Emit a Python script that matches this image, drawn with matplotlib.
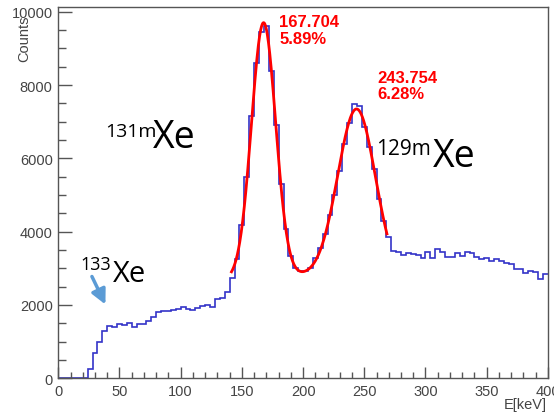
import numpy as np
import matplotlib
matplotlib.use('Agg')
from matplotlib import pyplot as plt
from matplotlib.ticker import MultipleLocator

# energy spectrum, 4 keV bins from 0 to 400 keV
bin_width = 4
counts = [
    0, 0, 0, 0, 0, 0,
    250, 700, 990, 1290, 1430, 1410, 1490, 1450, 1500, 1400,
    1480, 1470, 1560, 1670, 1800, 1840, 1840, 1870, 1900, 1940,
    1890, 1860, 1930, 1970, 1990, 1950, 2160, 2190, 2360, 2740,
    3250, 4180, 5500, 7150, 8610, 9450, 9620, 8370, 6900, 5300,
    4060, 3340, 3020, 2920, 2930, 3020, 3290, 3560, 3930, 4460,
    5000, 5650, 6390, 6970, 7470, 7430, 6850, 6300, 5700, 4880,
    4290, 3860, 3480, 3440, 3360, 3430, 3380, 3360, 3290, 3440,
    3290, 3520, 3440, 3320, 3320, 3430, 3340, 3440, 3430, 3320,
    3250, 3290, 3200, 3260, 3200, 3150, 3110, 2970, 2970, 2880,
    2930, 2900, 2720, 2840,
]
edges = np.arange(0, 400 + bin_width, bin_width)

# double gaussian + pol2 background fit
fit_range = (141.5, 268.5)
peak_mean = [167.704, 243.754]
peak_res = [0.0589, 0.0628]      # sigma / mean
peak_amp = [6935, 4584]
bg_pars = [2800, 205, 0.025]     # top, centre, curvature

def fit_func(x):
    y = bg_pars[0] - bg_pars[2] * (x - bg_pars[1]) ** 2
    for mu, res, amp in zip(peak_mean, peak_res, peak_amp):
        s = mu * res
        y = y + amp * np.exp(-0.5 * ((x - mu) / s) ** 2)
    return y

fig = plt.figure(figsize=(5.54, 4.14), dpi=100)
ax = fig.add_axes([0.1052, 0.0838, 0.8838, 0.8962])

ax.stairs(counts, edges, baseline=None, color='#3434c8', lw=1.2)

xf = np.linspace(fit_range[0], fit_range[1], 400)
ax.plot(xf, fit_func(xf), color='red', lw=2)

ax.set_xlim(0, 400)
ax.set_ylim(0, 10120)
ax.xaxis.set_major_locator(MultipleLocator(50))
ax.xaxis.set_minor_locator(MultipleLocator(10))
ax.yaxis.set_major_locator(MultipleLocator(2000))
ax.yaxis.set_minor_locator(MultipleLocator(500))
ax.tick_params(axis='x', which='major', direction='in', length=8, width=1, color='#555555', pad=4)
ax.tick_params(axis='x', which='minor', direction='in', length=4, width=1, color='#555555')
ax.tick_params(axis='y', which='major', direction='in', length=10, width=1, color='#555555', pad=4)
ax.tick_params(axis='y', which='minor', direction='in', length=5.5, width=1, color='#555555')
for lab in ax.get_xticklabels() + ax.get_yticklabels():
    lab.set_fontfamily('Liberation Sans')
    lab.set_fontsize(10.5)
    lab.set_color('#444444')
for sp in ax.spines.values():
    sp.set_color('#555555')
    sp.set_linewidth(1)

fig.text(24 / 554, 1 - 15 / 414, 'Counts', rotation=90, ha='center', va='top',
         family='Liberation Sans', fontsize=10.5, color='#444444')
fig.text(547 / 554, 1 - 405 / 414, 'E[keV]', ha='right', va='center',
         family='Liberation Sans', fontsize=10.5, color='#444444')

# fit results
ax.text(180.5, 9925, '%.3f\n%.2f%%' % (peak_mean[0], peak_res[0] * 100), color='red',
        fontweight='bold', family='Liberation Sans', fontsize=12, va='top', ha='left',
        linespacing=1.1)
ax.text(260.8, 8410, '%.3f\n%.2f%%' % (peak_mean[1], peak_res[1] * 100), color='red',
        fontweight='bold', family='Liberation Sans', fontsize=12, va='top', ha='left',
        linespacing=1.1)

# isotope labels
ax.text(38.5, 6610, '131m', family='Open Sans', fontsize=14, va='baseline')
ax.text(77.5, 6310, 'Xe', family='Open Sans', fontsize=27, va='baseline')
ax.text(260.0, 6119, '129m', family='Open Sans', fontsize=15, va='baseline')
ax.text(306.1, 5800, 'Xe', family='Open Sans', fontsize=27, va='baseline')
ax.text(18.3, 2982, '133', family='Open Sans', fontsize=13, va='baseline')
ax.text(44.9, 2663, 'Xe', family='Open Sans', fontsize=21, va='baseline')

ax.annotate('', xy=(39.5, 1945), xytext=(26.5, 2845),
            arrowprops=dict(arrowstyle='-|>', color='#5b9bd5', lw=2.5, mutation_scale=22))

plt.savefig('out.png', dpi=100)
plt.close()
